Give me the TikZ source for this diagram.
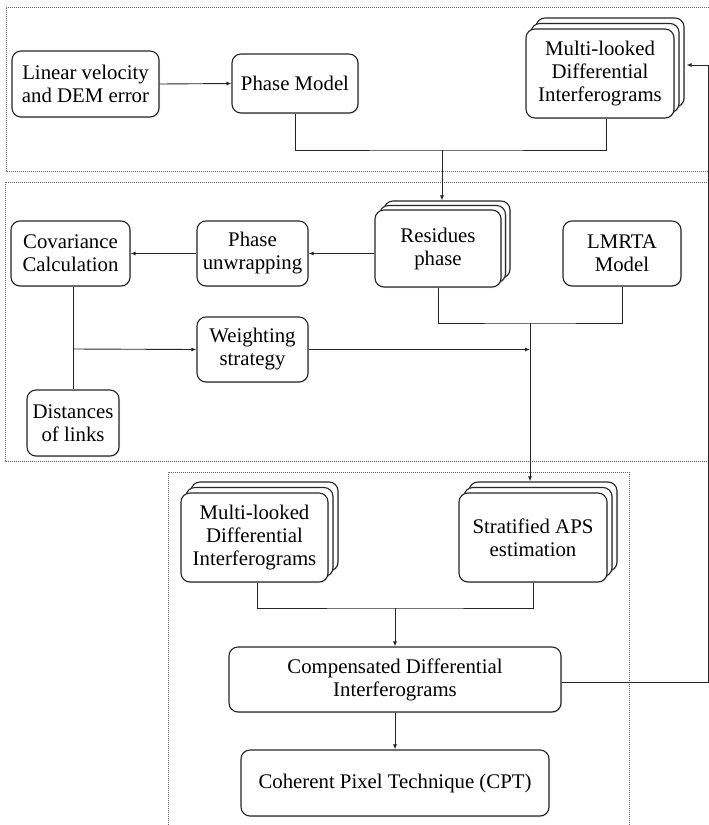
\documentclass[tikz,border=0pt]{standalone}
\usepackage{fontspec}
\newfontfamily\tnr{LiberationSerif}[Extension=.ttf, UprightFont=*-Regular, BoldFont=*-Bold]
\usetikzlibrary{arrows.meta,shadows}
\begin{document}
\begin{tikzpicture}[x=1pt,y=-1pt,
  box/.style={draw=black!85, line width=1.1pt, rounded corners=9pt, fill=white,
    align=center, inner sep=0pt, font=\tnr\fontsize{20.8}{23}\selectfont,
    drop shadow={shadow xshift=1pt,shadow yshift=-1pt,opacity=0.25}},
  ln/.style={line width=0.9pt, draw=black!85},
  arr/.style={ln, -{Latex[length=5pt,width=4pt]}},
  dotbox/.style={draw=black!60, line width=0.8pt, dash pattern=on 1pt off 1pt}]
\useasboundingbox (0,0) rectangle (709,825);
% group frames
\draw[dotbox] (709,7) -- (6,7) -- (6,171) -- (709,171);
\draw[dotbox] (709,182) -- (5,182) -- (5,461) -- (709,461);
\draw[dotbox] (168,825) -- (168,472) -- (629,472) -- (629,825);
% top group
\node[box, minimum width=147pt, minimum height=66pt] (lv) at (85.5,84) {Linear velocity\\and DEM error};
\node[box, minimum width=126pt, minimum height=59pt] (pm) at (295,83.5) {Phase Model};
\node[box, minimum width=148pt, minimum height=89pt] (ml1c) at (610,62.5) {};
\node[box, minimum width=148pt, minimum height=89pt] (ml1b) at (605,68) {};
\node[box, minimum width=148pt, minimum height=89pt] (ml1) at (600,73.5) {Multi-looked\\Differential\\Interferograms};
% middle group
\node[box, minimum width=119pt, minimum height=65pt] (cov) at (70.5,253.5) {Covariance\\Calculation};
\node[box, minimum width=111pt, minimum height=65pt] (pu) at (252.5,253.5) {Phase\\unwrapping};
\node[box, minimum width=126pt, minimum height=77pt] (res3) at (447,239.5) {};
\node[box, minimum width=126pt, minimum height=77pt] (res2) at (442.5,244) {};
\node[box, minimum width=126pt, minimum height=77pt] (res) at (438,248.5) {Residues\\phase};
\node[box, minimum width=118pt, minimum height=65pt] (lm) at (622,253.5) {LMRTA\\Model};
\node[box, minimum width=111pt, minimum height=65pt] (wt) at (252.5,349.5) {Weighting\\strategy};
\node[box, minimum width=92pt, minimum height=66pt] (dist) at (73,423) {Distances\\of links};
% bottom group
\node[box, minimum width=147pt, minimum height=89pt] (ml2c) at (264.5,526.5) {};
\node[box, minimum width=147pt, minimum height=89pt] (ml2b) at (259.5,532) {};
\node[box, minimum width=147pt, minimum height=89pt] (ml2) at (254.5,537.5) {Multi-looked\\Differential\\Interferograms};
\node[box, minimum width=148pt, minimum height=89pt] (st3) at (543,526.5) {};
\node[box, minimum width=148pt, minimum height=89pt] (st2) at (538,532) {};
\node[box, minimum width=148pt, minimum height=89pt] (st) at (533,537.5) {Stratified APS\\estimation};
\node[box, minimum width=332pt, minimum height=65pt] (cmp) at (395,679.5) {Compensated Differential\\Interferograms};
\node[box, minimum width=308pt, minimum height=66pt] (cpt) at (395,783) {Coherent Pixel Technique (CPT)};
% connectors
\draw[arr] (lv.east) -- (pm.west);
\coordinate (j1) at (442,150);
\draw[ln] (pm.south) |- (j1) -| ([xshift=6pt]ml1.south);
\draw[arr] (j1) -- (j1 |- res3.north);
\draw[arr] (res.west |- pu.east) -- (pu.east);
\draw[arr] (pu.west) -- (cov.east);
\draw[ln] (cov.south -| dist.north) -- (dist.north);
\coordinate (j2) at (73,349);
\draw[arr] (j2) -- (wt.west);
\coordinate (j3) at (530,323);
\draw[ln] (res.south) |- (j3) -| (lm.south);
\draw[arr] (j3) -- (j3 |- st3.north);
\draw[arr] (wt.east) -- (wt.east -| j3);
\coordinate (j4) at (395,608);
\draw[ln] ([xshift=2.5pt]ml2.south) |- (j4) -| (st.south);
\draw[arr] (j4) -- (cmp.north);
\draw[arr] (cmp.south) -- (cpt.north);
\coordinate (rc) at (708,682);
\coordinate (rt) at (708,65);
\draw[arr] (cmp.east |- rc) -- (rc) -- (rt) -- ([xshift=2pt]rt -| ml1c.east);
\end{tikzpicture}
\end{document}
